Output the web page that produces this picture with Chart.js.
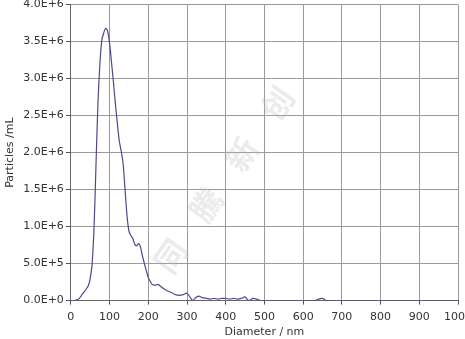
<!DOCTYPE html>
<html>
<head>
<meta charset="utf-8">
<script src="https://cdn.jsdelivr.net/npm/chart.js@4"></script>
<style>
  html, body { margin: 0; padding: 0; background: #fff; overflow: hidden; }
  #wrap { position: relative; width: 478px; height: 343px; margin-top: -4px; }
</style>
</head>
<body>
<div id="wrap"><canvas id="myChart"></canvas></div>
<script>
// diameter (nm) and concentration (particles/mL)
var diameters = [0,5,10,15,20,25,30,35,40,45,50,55,60,65,70,75,80,85,90,95,100,105,110,115,120,125,130,135,140,145,150,155,160,165,170,175,180,185,190,195,200,205,210,215,220,225,230,240,250,260,270,280,290,300,310,315,320,330,340,350,360,370,380,390,400,410,420,430,440,450,455,460,465,470,480,490,500,600,630,640,650,660,700,800,900,1000];
var particles = [0,0,0,0.01,0.02,0.05,0.09,0.12,0.16,0.2,0.3,0.5,1.0,1.85,2.67,3.2,3.52,3.62,3.68,3.64,3.48,3.22,2.95,2.66,2.4,2.16,2.02,1.85,1.5,1.15,0.94,0.88,0.84,0.76,0.74,0.77,0.72,0.6,0.5,0.4,0.31,0.26,0.22,0.21,0.21,0.22,0.2,0.16,0.13,0.11,0.08,0.07,0.08,0.1,0.03,0.0,0.03,0.06,0.04,0.03,0.02,0.03,0.02,0.03,0.03,0.02,0.03,0.02,0.03,0.05,0.02,0.0,0.01,0.03,0.02,0,0,0,0,0.02,0.03,0,0,0,0,0];
var xTicks = [0,100,200,300,400,500,600,700,800,900,1000];
var yTicks = [0,5e5,1e6,1.5e6,2e6,2.5e6,3e6,3.5e6,4e6];

var points = diameters.map(function(d, i){ return {x: d, y: particles[i] * 1e6}; });

var watermark = {
  id: 'watermark',
  beforeDatasetsDraw: function(chart){
    var c = chart.ctx;
    c.save();
    c.translate(225, 182);
    c.rotate(-55 * Math.PI / 180);
    c.font = 'bold 32px "Noto Sans CJK SC"';
    c.fillStyle = 'rgba(190,190,190,0.3)';
    c.textAlign = 'center';
    c.textBaseline = 'middle';
    var chars = ['同', '騰', '新', '创'];
    for (var i = 0; i < chars.length; i++) {
      c.fillText(chars[i], -95 + i * 62, 0);
    }
    c.restore();
  }
};

var ctx = document.getElementById('myChart').getContext('2d');
var chart = new Chart(ctx, {
  type: 'line',
  data: {
    datasets: [{
      data: points,
      borderColor: '#4a4a8c',
      borderWidth: 1.2,
      pointRadius: 0,
      tension: 0.3,
      fill: false
    }]
  },
  options: {
    responsive: true,
    maintainAspectRatio: false,
    animation: false,
    layout: { padding: { top: 0, left: 4, bottom: 0 } },
    plugins: { legend: { display: false }, tooltip: { enabled: false } },
    scales: {
      x: {
        type: 'linear',
        min: 0, max: 1000,
        afterBuildTicks: function(s){ s.ticks = xTicks.map(function(v){ return {value: v}; }); },
        ticks: {
          color: '#333', font: { family: 'DejaVu Sans', size: 11 }, padding: 6, maxRotation: 0,
          callback: function(v){ return String(v); }
        },
        grid: { color: '#9a9a9a', tickLength: 4, tickColor: '#555' },
        border: { color: '#666' },
        title: { display: true, text: 'Diameter / nm', color: '#333', font: { family: 'DejaVu Sans', size: 11 }, padding: { top: -4, bottom: 0 } }
      },
      y: {
        min: 0, max: 4e6,
        afterBuildTicks: function(s){ s.ticks = yTicks.map(function(v){ return {value: v}; }); },
        ticks: {
          color: '#333', font: { family: 'DejaVu Sans', size: 11 }, padding: 2,
          callback: function(v){ return Number(v).toExponential(1).replace('e', 'E'); }
        },
        grid: { color: '#9a9a9a', tickLength: 5, tickColor: '#555' },
        border: { color: '#666' },
        title: { display: true, text: 'Particles /mL', color: '#333', font: { family: 'DejaVu Sans', size: 11 }, padding: { top: 0, bottom: 4 } }
      }
    }
  },
  plugins: [watermark]
});
</script>
</body>
</html>
